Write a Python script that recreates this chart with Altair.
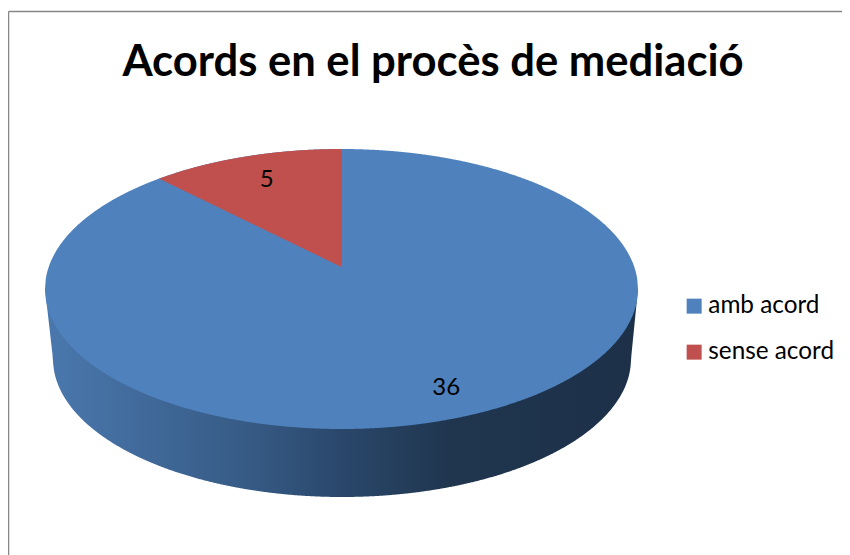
import altair as alt
import numpy as np
import pandas as pd

# chart values
categories = ["amb acord", "sense acord"]
values = [36, 5]
colors = ["#4F81BD", "#C0504D"]
label_radius = [0.84, 0.76]
wall_offsets = [0.0, 0.35, 0.5, 0.68, 1.0]
wall_colors = ["#4A78AE", "#365A84", "#2A476B", "#20364F", "#1C3048"]

# geometry of the tilted disc, in reference pixel units
CX, CY, RX, RY = 341.5, 289.0, 296.5, 140.0
BCX, BCY, BRX, BRY = 342.0, 359.0, 289.0, 138.0
K = 0.157  # perspective shift of the disc centre


def project(u, v):
    d = 1 + K * v
    return CX + RX * u * np.sqrt(1 - K * K) / d, CY - RY * (v + K) / d


def on_disc(angle, r=1.0):
    return project(r * np.sin(angle), r * np.cos(angle))


total = sum(values)
split = 2 * np.pi * values[0] / total  # blue runs clockwise from 12 o'clock

# top disc
xs = np.linspace(CX - RX, CX + RX, 721)
half = RY * np.sqrt(np.clip(1 - ((xs - CX) / RX) ** 2, 0, 1))
disc = pd.DataFrame({"x": xs, "y": CY - half, "y2": CY + half, "c": categories[0]})

# red slice
ex, ey = on_disc(split)
ax, ay = project(0.0, 0.0)
sx = np.linspace(ex, ax, 241)
top = CY - RY * np.sqrt(1 - ((sx - CX) / RX) ** 2)
low = ey + (ay - ey) * (sx - ex) / (ax - ex)
slice_df = pd.DataFrame({"x": sx, "y": top, "y2": low, "c": categories[1]})

# side wall
wx = np.linspace(CX - RX, CX + RX, 721)
inside = np.abs(wx - BCX) <= BRX
wy2 = np.empty_like(wx)
wy2[inside] = BCY + BRY * np.sqrt(1 - ((wx[inside] - BCX) / BRX) ** 2)
lx, rx = BCX - BRX, BCX + BRX
left = wx < lx
right = wx > rx
wy2[left] = CY + (BCY - CY) * (wx[left] - (CX - RX)) / (lx - (CX - RX))
wy2[right] = CY + (BCY - CY) * ((CX + RX) - wx[right]) / ((CX + RX) - rx)
wall = pd.DataFrame({"x": wx, "y": CY, "y2": wy2})

# data labels
mids = [split / 2, split + (2 * np.pi - split) / 2]
lab = []
for m, r, v in zip(mids, label_radius, values):
    px, py = on_disc(m, r)
    lab.append({"x": px, "y": py, "t": str(v)})
labels = pd.DataFrame(lab)

xscale = alt.Scale(domain=[8, 842], range=[0, 834], nice=False, zero=False)
yscale = alt.Scale(domain=[8, 555], range=[0, 547], nice=False, zero=False)
X = alt.X("x:Q", scale=xscale, axis=None)
Y = alt.Y("y:Q", scale=yscale, axis=None)

color = alt.Color(
    "c:N",
    scale=alt.Scale(domain=categories, range=colors),
    legend=alt.Legend(
        title=None,
        orient="none",
        legendX=674,
        legendY=286,
        symbolType="square",
        symbolSize=225,
        symbolStrokeWidth=0,
        symbolOpacity=1,
        labelFont="Lato",
        labelFontSize=24.3,
        labelColor="#000000",
        labelOffset=2,
        rowPadding=21,
        labelLimit=200,
    ),
)

wall_layer = (
    alt.Chart(wall)
    .mark_area(
        opacity=1,
        color=alt.Gradient(
            gradient="linear",
            x1=0, x2=1, y1=0, y2=0,
            stops=[alt.GradientStop(offset=o, color=c) for o, c in zip(wall_offsets, wall_colors)],
        ),
    )
    .encode(x=X, y=Y, y2="y2:Q")
)
disc_layer = alt.Chart(disc).mark_area(opacity=1).encode(x=X, y=Y, y2="y2:Q", color=color)
slice_layer = alt.Chart(slice_df).mark_area(opacity=1).encode(x=X, y=Y, y2="y2:Q", color=color)
label_layer = (
    alt.Chart(labels)
    .mark_text(font="Lato", fontSize=24, color="#000000", align="center", baseline="middle")
    .encode(x=X, y=Y, text="t:N")
)
border_v = (
    alt.Chart(pd.DataFrame({"x": [8.5], "y": [11.5], "y2": [555]}))
    .mark_rule(color="#868686", strokeWidth=1.5)
    .encode(x=X, y=Y, y2="y2:Q")
)
border_h = (
    alt.Chart(pd.DataFrame({"x": [8.5], "x2": [842], "y": [11.5]}))
    .mark_rule(color="#868686", strokeWidth=1.5)
    .encode(x=X, x2="x2:Q", y=Y)
)

chart = (
    alt.layer(border_v, border_h, wall_layer, disc_layer, slice_layer, label_layer)
    .properties(
        width=834,
        height=547,
        padding=0,
        autosize=alt.AutoSizeParams(type="none"),
        title=alt.TitleParams(
            "Acords en el procès de mediació",
            font="Lato",
            fontSize=43.6,
            fontWeight="bold",
            color="#000000",
            anchor="middle",
            frame="group",
            dx=8,
            dy=78,
            offset=0,
            limit=0,
        ),
    )
    .configure_view(stroke=None)
)

chart.save("out.html", embed_options={"renderer": "svg", "actions": False})
